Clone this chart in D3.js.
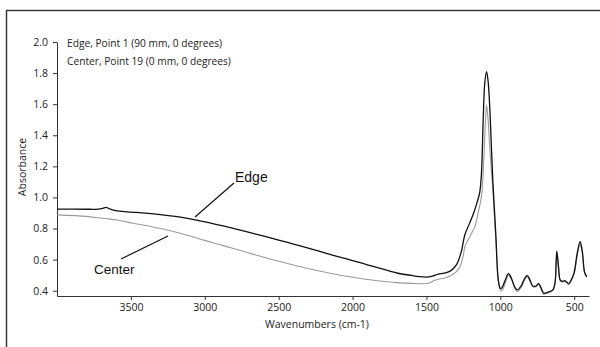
<!DOCTYPE html>
<html>
<head>
<meta charset="utf-8">
<script src="https://cdn.jsdelivr.net/npm/d3@7.9.0/dist/d3.min.js"></script>
<style>
  body { margin: 0; background: #fff; }
  svg { display: block; }
  .axis text { font-family: "Open Sans", sans-serif; font-size: 10.5px; fill: #222; }
  .axis path, .axis line { stroke: #333; }
</style>
</head>
<body>
<svg width="600" height="347"></svg>
<script>
// wavenumbers (cm-1) and absorbance
const edgeWave = [4000, 3800, 3720, 3690, 3668, 3640, 3580, 3500, 3400, 3300, 3200, 3100, 3000, 2900, 2800, 2700, 2600, 2500, 2400, 2300, 2200, 2100, 2000, 1900, 1800, 1700, 1600, 1550, 1500, 1460, 1420, 1380, 1340, 1307, 1285, 1262, 1240, 1210, 1184, 1160, 1140, 1128, 1116, 1105, 1093, 1082, 1070, 1051, 1030, 1014, 1000, 990, 970, 945, 925, 900, 884, 860, 835, 818, 800, 780, 760, 741, 725, 707, 680, 645, 630, 618, 606, 595, 580, 566, 550, 537, 520, 500, 480, 460, 445, 430, 415];
const edgeAbs = [0.925, 0.924, 0.925, 0.930, 0.936, 0.925, 0.912, 0.906, 0.899, 0.890, 0.878, 0.862, 0.843, 0.822, 0.800, 0.776, 0.751, 0.726, 0.700, 0.674, 0.647, 0.620, 0.594, 0.567, 0.540, 0.514, 0.498, 0.491, 0.488, 0.494, 0.507, 0.513, 0.526, 0.554, 0.590, 0.660, 0.760, 0.830, 0.890, 0.960, 1.030, 1.150, 1.500, 1.740, 1.810, 1.740, 1.550, 1.110, 0.750, 0.470, 0.415, 0.418, 0.460, 0.510, 0.480, 0.420, 0.405, 0.430, 0.480, 0.497, 0.470, 0.430, 0.430, 0.445, 0.420, 0.385, 0.390, 0.405, 0.450, 0.655, 0.550, 0.470, 0.460, 0.465, 0.455, 0.445, 0.470, 0.520, 0.640, 0.715, 0.650, 0.520, 0.490];

const centerWave = [4000, 3800, 3709, 3650, 3600, 3560, 3484, 3400, 3300, 3200, 3100, 3000, 2900, 2800, 2700, 2600, 2500, 2400, 2300, 2200, 2100, 2000, 1900, 1800, 1700, 1600, 1520, 1480, 1450, 1420, 1380, 1340, 1300, 1273, 1250, 1240, 1200, 1172, 1150, 1126, 1112, 1100, 1093, 1083, 1070, 1051, 1030, 1014, 1000, 990, 970, 945, 925, 900, 884, 860, 835, 818, 800, 780, 760, 741, 725, 707, 680, 645, 630, 618, 606, 595, 580, 566, 550, 537, 520, 500, 480, 460, 445, 430, 415];
const centerAbs = [0.888, 0.878, 0.868, 0.862, 0.856, 0.848, 0.834, 0.820, 0.800, 0.778, 0.752, 0.724, 0.697, 0.670, 0.642, 0.615, 0.590, 0.566, 0.543, 0.522, 0.503, 0.487, 0.472, 0.461, 0.452, 0.447, 0.445, 0.450, 0.465, 0.474, 0.480, 0.495, 0.520, 0.554, 0.630, 0.683, 0.760, 0.812, 0.900, 1.020, 1.250, 1.500, 1.594, 1.500, 1.300, 1.050, 0.720, 0.470, 0.405, 0.398, 0.440, 0.500, 0.470, 0.410, 0.395, 0.420, 0.470, 0.492, 0.462, 0.425, 0.425, 0.440, 0.412, 0.378, 0.385, 0.400, 0.445, 0.645, 0.545, 0.465, 0.455, 0.460, 0.450, 0.440, 0.465, 0.510, 0.625, 0.700, 0.640, 0.515, 0.485];

const xTicks = [3500, 3000, 2500, 2000, 1500, 1000, 500];
const yTicks = [0.4, 0.6, 0.8, 1.0, 1.2, 1.4, 1.6, 1.8, 2.0];
const legendLines = ['Edge, Point 1 (90 mm, 0 degrees)', 'Center, Point 19 (0 mm, 0 degrees)'];

const svg = d3.select('svg');

// frame around the figure, right and bottom sides run off the page
svg.append('rect')
  .attr('x', 6.5).attr('y', 10.5)
  .attr('width', 700).attr('height', 400)
  .attr('fill', 'none')
  .attr('stroke', '#3a3a3a')
  .attr('stroke-width', 1.5);

const x = d3.scaleLinear().domain([4000, 400]).range([57, 589]);
const y = d3.scaleLinear().domain([0.366, 2.0]).range([296, 42]);

svg.append('g')
  .attr('class', 'axis')
  .attr('transform', 'translate(0,296)')
  .call(d3.axisBottom(x).tickValues(xTicks).tickFormat(d3.format('d')).tickSize(4).tickSizeOuter(0).tickPadding(4));

svg.append('g')
  .attr('class', 'axis')
  .attr('transform', 'translate(57,0)')
  .call(d3.axisLeft(y).tickValues(yTicks).tickFormat(d3.format('.1f')).tickSize(4).tickSizeOuter(0).tickPadding(5));

svg.append('text')
  .attr('x', 317).attr('y', 328)
  .attr('text-anchor', 'middle')
  .attr('font-family', 'Open Sans, sans-serif')
  .attr('font-size', 10.5)
  .attr('fill', '#222')
  .text('Wavenumbers (cm-1)');

svg.append('text')
  .attr('transform', 'translate(26,167) rotate(-90)')
  .attr('text-anchor', 'middle')
  .attr('font-family', 'Open Sans, sans-serif')
  .attr('font-size', 10.5)
  .attr('fill', '#222')
  .text('Absorbance');

legendLines.forEach((t, i) => {
  svg.append('text')
    .attr('x', 67).attr('y', 47 + i * 17.5)
    .attr('font-family', 'Open Sans, sans-serif')
    .attr('font-size', 10.2)
    .attr('fill', '#222')
    .text(t);
});

const line = d3.line()
  .x((d) => x(d[0]))
  .y((d) => y(d[1]))
  .curve(d3.curveCatmullRom.alpha(0.5));

svg.append('path')
  .datum(d3.zip(centerWave, centerAbs))
  .attr('d', line)
  .attr('fill', 'none')
  .attr('stroke', '#9a9a9a')
  .attr('stroke-width', 1.1);

svg.append('path')
  .datum(d3.zip(edgeWave, edgeAbs))
  .attr('d', line)
  .attr('fill', 'none')
  .attr('stroke', '#111')
  .attr('stroke-width', 1.3);

// annotations with leader lines
svg.append('line')
  .attr('x1', 195).attr('y1', 217).attr('x2', 234).attr('y2', 183)
  .attr('stroke', '#111').attr('stroke-width', 1.2);
svg.append('text')
  .attr('x', 235).attr('y', 182)
  .attr('font-family', 'Liberation Sans, Arial, sans-serif')
  .attr('font-size', 14)
  .attr('fill', '#111')
  .text('Edge');

svg.append('line')
  .attr('x1', 121).attr('y1', 259).attr('x2', 168).attr('y2', 236)
  .attr('stroke', '#111').attr('stroke-width', 1.2);
svg.append('text')
  .attr('x', 94).attr('y', 274)
  .attr('font-family', 'Liberation Sans, Arial, sans-serif')
  .attr('font-size', 13.5)
  .attr('fill', '#111')
  .text('Center');
</script>
</body>
</html>
